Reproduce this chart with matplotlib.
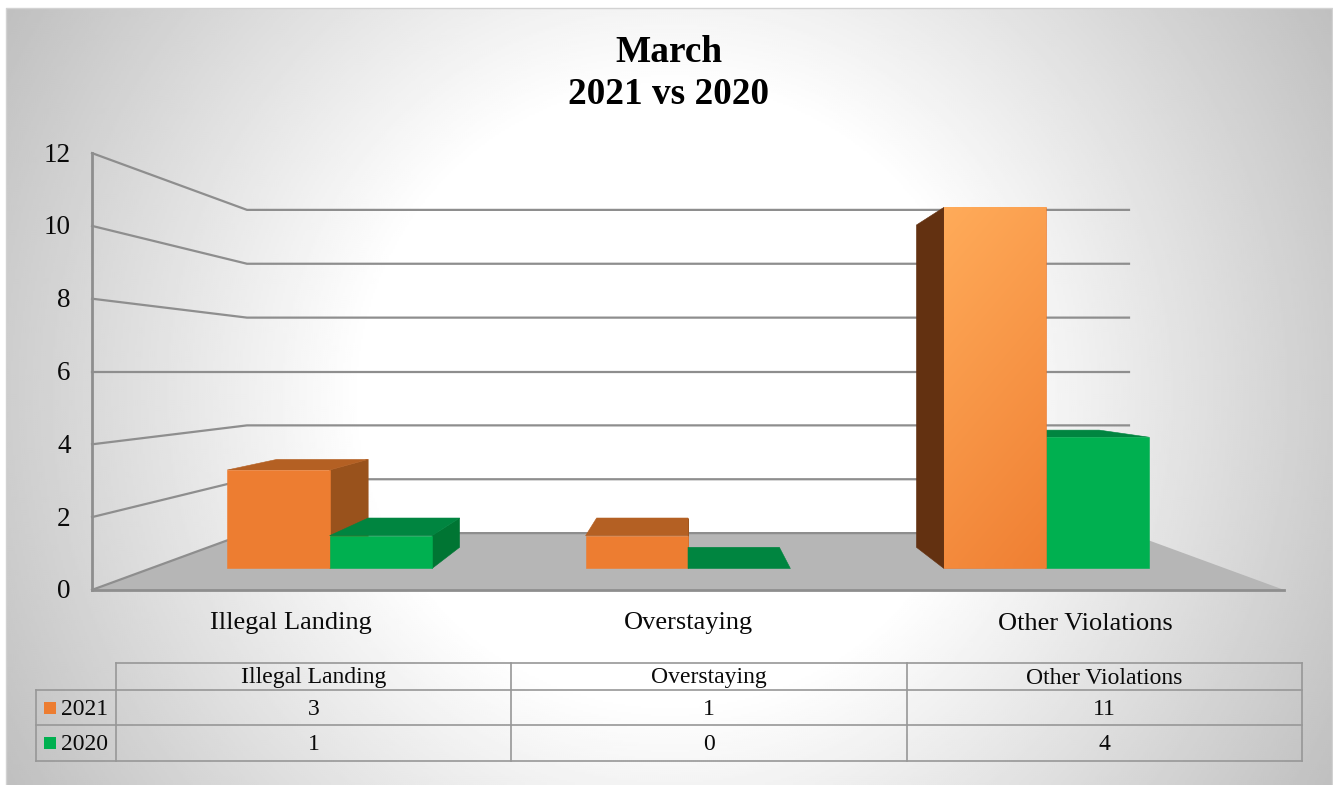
import matplotlib
matplotlib.use("Agg")
import matplotlib.pyplot as plt
import numpy as np
from matplotlib.patches import Polygon, Rectangle

# Data
categories = ["Illegal Landing", "Overstaying", "Other Violations"]
series_names = ["2021", "2020"]
values_2021 = [3, 1, 11]
values_2020 = [1, 0, 4]
y_ticks = [0, 2, 4, 6, 8, 10, 12]

plt.rcParams['font.family'] = ['Liberation Serif', 'DejaVu Serif']

W, H = 1333, 785
fig = plt.figure(figsize=(W / 100, H / 100), dpi=100, facecolor='white')
ax = fig.add_axes([0, 0, 1, 1])
ax.axis('off')

# background panel, radial grey to white
yy, xx = np.mgrid[8:785:2, 6:1332:2]
r = np.hypot(xx - 669, yy - 395) / 768
grey = 1 - 0.25 * np.clip((r - 0.4) / 0.6, 0, 1)
ax.imshow(grey, extent=(6, 1332, 785, 8), cmap='gray', vmin=0, vmax=1,
          aspect='auto', zorder=0, interpolation='bilinear')
ax.plot([6, 6, 1332, 1332], [785, 8, 8, 785], color='#d2d2d2', lw=1, zorder=1)

ax.set_xlim(0, W)
ax.set_ylim(H, 0)

# perspective, k is the scale at a given depth
cx, cy = 688, 371.5
eye = 6
unit = 36.4
cat_w = 397.3
bar_w = cat_w / 3.5
k_wall = 1.0
k_bar_front = 0.902
k_bar_back = 0.805
k_back = 0.74


def pt(xp, v, k):
    return (cx + xp * k, cy + (eye - v) * unit * k)


half = cat_w * len(categories) / 2
grid_col = '#8e8e8e'

# floor
floor = [pt(-half, 0, k_wall), pt(-half, 0, k_back), pt(half, 0, k_back), pt(half, 0, k_wall)]
ax.add_patch(Polygon(floor, closed=True, fc='#b6b6b6', ec='none', zorder=2))

# gridlines and y labels
for v in y_ticks:
    p = [pt(-half, v, k_wall), pt(-half, v, k_back), pt(half, v, k_back)]
    ax.plot([a[0] for a in p], [a[1] for a in p], color=grid_col, lw=1.6, zorder=3,
            solid_joinstyle='miter')
    ax.text(70.5, pt(-half, v, k_wall)[1] + 2, str(v), ha='right', va='center',
            fontsize=19.5, color='#0a0a0a', zorder=6)

a = pt(-half, 0, k_wall)
b = pt(-half, max(y_ticks), k_wall)
ax.plot([a[0], b[0]], [a[1], b[1]], color=grid_col, lw=2, zorder=4)
a2 = pt(half, 0, k_wall)
ax.plot([a[0], a2[0]], [a[1], a2[1]], color=grid_col, lw=2, zorder=4)

# bars
face_cols = ['#ed7d31', '#00b050']
top_cols = ['#b46023', '#008540']
right_cols = ['#99521c', '#007533']
left_cols = ['#633111', '#00552a']

bars = []
for s, vals in enumerate([values_2021, values_2020]):
    for i, v in enumerate(vals):
        x0 = (i - len(categories) / 2 + 0.5) * cat_w + (s - 1) * bar_w
        bars.append((x0, v, s))
# farthest from the middle gets drawn first
bars.sort(key=lambda t: -abs(t[0] + bar_w / 2))

z = 5.0
for x0, v, s in bars:
    x1 = x0 + bar_w
    z += 0.01
    face = [pt(x0, 0, k_bar_front), pt(x0, v, k_bar_front), pt(x1, v, k_bar_front), pt(x1, 0, k_bar_front)]
    if x1 <= 0 and v > 0:
        side = [pt(x1, 0, k_bar_front), pt(x1, v, k_bar_front), pt(x1, v, k_bar_back), pt(x1, 0, k_bar_back)]
        ax.add_patch(Polygon(side, closed=True, fc=right_cols[s], ec=right_cols[s], lw=0.4, zorder=z))
    if x0 >= 0 and v > 0:
        side = [pt(x0, 0, k_bar_front), pt(x0, v, k_bar_front), pt(x0, v, k_bar_back), pt(x0, 0, k_bar_back)]
        ax.add_patch(Polygon(side, closed=True, fc=left_cols[s], ec=left_cols[s], lw=0.4, zorder=z))
    if v <= eye:
        top = [pt(x0, v, k_bar_front), pt(x0, v, k_bar_back), pt(x1, v, k_bar_back), pt(x1, v, k_bar_front)]
        ax.add_patch(Polygon(top, closed=True, fc=top_cols[s], ec=top_cols[s], lw=0.4, zorder=z))
    if v > 0:
        p = Polygon(face, closed=True, fc=face_cols[s], ec=face_cols[s], lw=0.4, zorder=z + 0.001)
        ax.add_patch(p)
        if v > eye:
            # tall bar catches the light, lighter towards the top left
            gy, gx = np.mgrid[0:1:40j, 0:1:40j]
            t = np.clip(gy * 0.75 + gx * 0.25, 0, 1)[..., None]
            img = (1 - t) * np.array([1.0, 0.67, 0.35]) + t * np.array([0.94, 0.5, 0.2])
            xs = [q[0] for q in face]
            ys = [q[1] for q in face]
            im = ax.imshow(img, extent=(min(xs), max(xs), max(ys), min(ys)), aspect='auto',
                           zorder=z + 0.002, interpolation='bilinear')
            im.set_clip_path(p)
ax.set_xlim(0, W)
ax.set_ylim(H, 0)

# category labels
for i, c in enumerate(categories):
    ax.text(pt((i - len(categories) / 2 + 0.5) * cat_w, 0, k_wall)[0], 623.5, c,
            ha='center', va='center', fontsize=19, color='#0a0a0a')

# title
ax.text(668.5, 52, "March", ha='center', va='center', fontsize=26.8, fontweight='bold', color='black')
ax.text(668.5, 95, "2021 vs 2020", ha='center', va='center', fontsize=26.8, fontweight='bold', color='black')

# data table
col_x = [116, 511, 907, 1302]
row_y = [663, 690, 725, 761]
leg_x = 36
tbl_col = '#979797'
tbl_lw = 1.2
for x in col_x:
    ax.plot([x, x], [row_y[0], row_y[-1]], color=tbl_col, lw=tbl_lw, zorder=3)
ax.plot([leg_x, leg_x], [row_y[1], row_y[-1]], color=tbl_col, lw=tbl_lw, zorder=3)
ax.plot([col_x[0], col_x[-1]], [row_y[0], row_y[0]], color=tbl_col, lw=tbl_lw, zorder=3)
for y in row_y[1:]:
    ax.plot([leg_x, col_x[-1]], [y, y], color=tbl_col, lw=tbl_lw, zorder=3)

for i, c in enumerate(categories):
    xm = (col_x[i] + col_x[i + 1]) / 2
    ax.text(xm, 678, c, ha='center', va='center', fontsize=17, color='#0a0a0a')
    for j, vals in enumerate([values_2021, values_2020]):
        ym = (row_y[j + 1] + row_y[j + 2]) / 2
        ax.text(xm, ym + 2, str(vals[i]), ha='center', va='center', fontsize=17, color='#0a0a0a')

for j, name in enumerate(series_names):
    ym = (row_y[j + 1] + row_y[j + 2]) / 2
    ax.add_patch(Rectangle((44, ym - 6), 12, 12, fc=face_cols[j], ec='none', zorder=4))
    ax.text(61, ym + 2, name, ha='left', va='center', fontsize=17, color='#0a0a0a')

fig.savefig('out.png', dpi=100)
